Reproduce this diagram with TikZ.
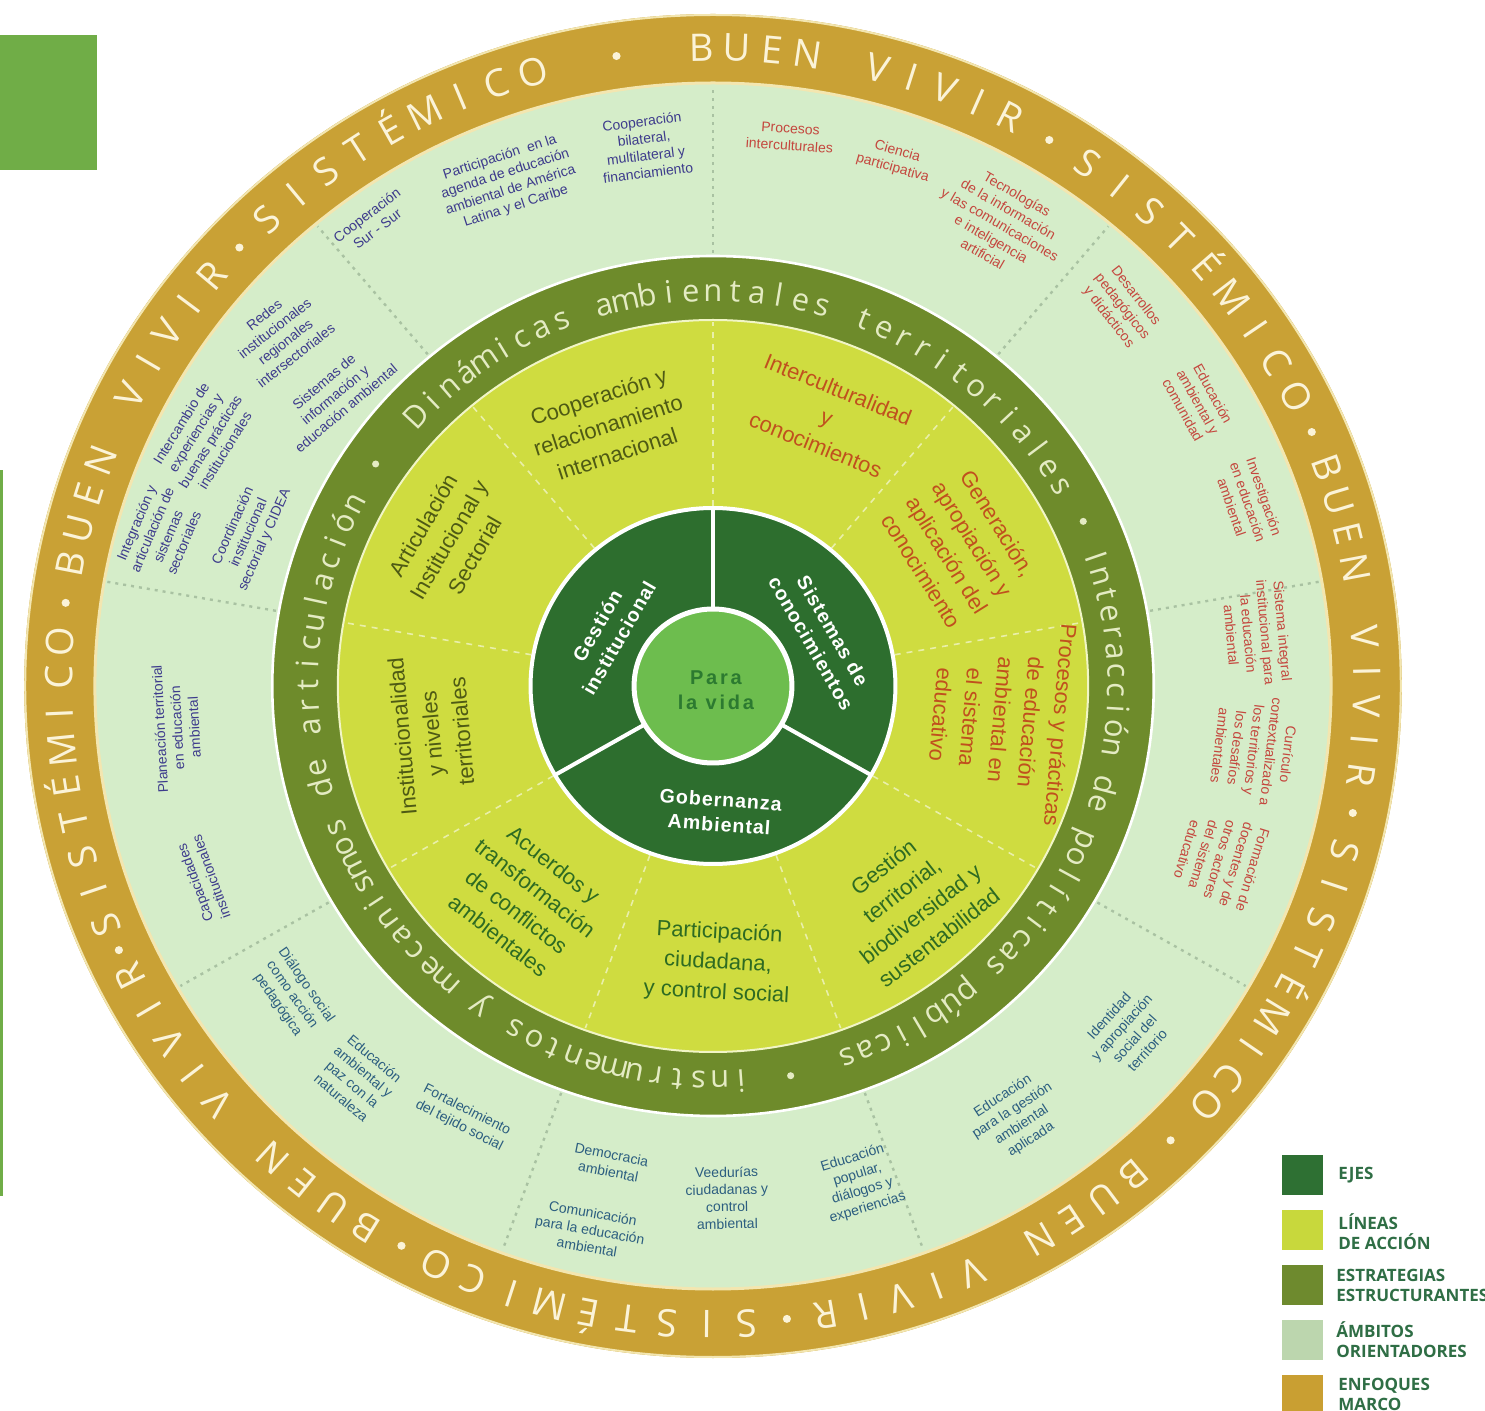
\documentclass[tikz,border=0pt]{standalone}
\usepackage{fontspec}
\setmainfont{Liberation Sans}
\newfontfamily\osans{Open Sans}
\newfontfamily\vidafont[LetterSpace=14]{Liberation Sans}
\newfontfamily\ejfont[LetterSpace=5]{Liberation Sans}

\definecolor{cGold}{HTML}{C9A135}
\definecolor{cGoldEdge}{HTML}{F3E6B0}
\definecolor{cGoldTxt}{HTML}{FBF3D8}
\definecolor{cAmb}{HTML}{D5EDC9}
\definecolor{cOlive}{HTML}{6E8B2B}
\definecolor{cOliveTxt}{HTML}{E4EBC3}
\definecolor{cLineas}{HTML}{CFDC40}
\definecolor{cEjes}{HTML}{2D6E2E}
\definecolor{cVida}{HTML}{6DBD4E}
\definecolor{cVidaTxt}{HTML}{2C7A30}
\definecolor{cDiv}{HTML}{A9C2A2}
\definecolor{cNavy}{HTML}{3D3B8C}
\definecolor{cRed}{HTML}{C4473E}
\definecolor{cTeal}{HTML}{2C5E80}
\definecolor{cOlTxt}{HTML}{4E5A14}
\definecolor{cOrTxt}{HTML}{C0501E}
\definecolor{cGrTxt}{HTML}{2E6B22}
\definecolor{cLeg}{HTML}{2F6E45}
\definecolor{cOffice}{HTML}{70AD47}
\definecolor{cSwEjes}{HTML}{2E7033}
\definecolor{cSwLin}{HTML}{C8D83C}
\definecolor{cSwEst}{HTML}{6E8A2E}
\definecolor{cSwAmb}{HTML}{BCD6AE}
\definecolor{cSwEnf}{HTML}{C99F32}

\makeatletter
\newdimen\AT@tot \newdimen\AT@x \newdimen\AT@w \newdimen\AT@spw
\newcount\AT@n \newcount\AT@id
\def\AT@end{}
\def\AT@endmark{\AT@end}
\def\AT@sp{/}
% #1 baseline radius, #2 start angle, #3 end angle (clockwise), #4 font, #5 text (/ = space)
\newcommand\ArcText[5]{%
  \def\AT@font{#4}%
  \def\AT@r{#1}\def\AT@start{#2}%
  \setbox0\hbox{\AT@font\ }\AT@spw=\wd0\relax
  \AT@tot=0pt\relax \AT@n=0\relax
  \AT@measure#5\AT@end
  \pgfmathsetmacro\AT@track{((#2-(#3))/57.29578*#1*0.5-\the\AT@tot)/(\the\AT@n-1)}%
  \AT@x=0pt\relax
  \AT@place#5\AT@end}
\def\AT@measure#1{%
  \def\AT@tmp{#1}%
  \ifx\AT@tmp\AT@endmark\let\AT@next\relax
  \else\let\AT@next\AT@measurestep\fi
  \AT@next}
\def\AT@measurestep{%
  \ifx\AT@tmp\AT@sp\advance\AT@tot by\AT@spw\relax
  \else\setbox0\hbox{\AT@font\AT@tmp}\advance\AT@tot by\wd0\relax\fi
  \advance\AT@n by 1\relax
  \AT@measure}
\def\AT@place#1{%
  \def\AT@tmp{#1}%
  \ifx\AT@tmp\AT@endmark\let\AT@next\relax
  \else\let\AT@next\AT@placestep\fi
  \AT@next}
\def\AT@placestep{%
  \ifx\AT@tmp\AT@sp\AT@w=\AT@spw\relax\let\AT@draw\relax
  \else\setbox0\hbox{\AT@font\AT@tmp}\AT@w=\wd0\relax\let\AT@draw\AT@drawnode\fi
  \pgfmathsetmacro\AT@ang{\AT@start-(\the\AT@x+0.5*\the\AT@w)/(\AT@r*0.5)*57.29578}%
  \AT@draw
  \advance\AT@x by\AT@w\relax
  \advance\AT@x by\AT@track pt\relax
  \AT@place}
\def\AT@drawnode{\global\advance\AT@id by 1\relax
  \node[inner sep=0pt, anchor=base, rotate=\AT@ang-90] (arcch\the\AT@id) at (\AT@ang:\AT@r) {\AT@font\AT@tmp};}
\makeatother

\newcommand\goldfont{\osans\fontsize{19}{19}\selectfont\color{cGoldTxt}}
\newcommand\olivefont{\osans\fontsize{15.5}{15.5}\selectfont\color{cOliveTxt}}

\tikzset{
  amblab/.style={align=center, inner sep=0pt, font=\fontsize{7}{8.6}\selectfont},
  ylab/.style={align=center, inner sep=0pt, font=\fontsize{11}{15}\selectfont},
  ejlab/.style={align=center, inner sep=0pt, text=white, font=\ejfont\bfseries\fontsize{9.8}{12.5}\selectfont},
  legtx/.style={anchor=west, align=left, inner sep=0pt, text=cLeg, font=\osans\bfseries\fontsize{8.5}{10}\selectfont},
  ydiv/.style={white!55!cLineas, line width=0.8pt, dash pattern=on 3pt off 3pt},
  adiv/.style={cDiv, line width=1.2pt, dash pattern=on 1.5pt off 2.5pt},
}

\begin{document}
\begin{tikzpicture}[x=0.5pt,y=-0.5pt]
\useasboundingbox (0,0) rectangle (1485,1411);
\fill[white] (0,0) rectangle (1485,1411);

% top-left square and left rule
\fill[cOffice] (0,35) rectangle (97,170);
\fill[cOffice] (0,470) rectangle (3,1196);

% ===== rings =====
\begin{scope}[shift={(713,686)}, yscale=-1, xscale=1.025]
  \fill[cGold] (0,0) circle (672);
  \draw[cGoldEdge, line width=1pt] (0,0) circle (671);
  \fill[cAmb] (0,0) circle (603);
  \draw[cGoldEdge, line width=1.5pt] (0,0) circle (603);
  \fill[cOlive] (0,0) circle (430);
  \draw[white, line width=1.3pt] (0,0) circle (430);
  \fill[cLineas] (0,0) circle (366);
  \draw[white!70!cLineas, line width=1pt] (0,0) circle (366);
  \foreach \a in {90,50,10,-30,-70,-110,-150,170,130}{
    \draw[adiv] (\a:433) -- (\a:600);
    \draw[ydiv] (\a:180) -- (\a:364);
  }
  \fill[cEjes] (0,0) circle (178);
  \draw[white, line width=2pt] (0,0) circle (178);
  \foreach \a in {90,210,330}{ \draw[white, line width=2pt] (\a:77) -- (\a:178); }
  \fill[cVida] (0,0) circle (77);
  \draw[white, line width=2.5pt] (0,0) circle (77);

  % gold ring text
  \ArcText{625}{91}{63}{\goldfont}{BUEN/VIVIR}
  \ArcText{625}{55}{27}{\goldfont}{SISTÉMICO}
  \ArcText{625}{20}{-8}{\goldfont}{BUEN/VIVIR}
  \ArcText{625}{-15}{-41}{\goldfont}{SISTÉMICO}
  \ArcText{625}{-50}{-80}{\goldfont}{BUEN/VIVIR}
  \ArcText{625}{-87}{-115}{\goldfont}{SISTÉMICO}
  \ArcText{625}{-122}{-153}{\goldfont}{BUEN/VIVIR}
  \ArcText{625}{-158}{-184}{\goldfont}{SISTÉMICO}
  \ArcText{625}{169}{140}{\goldfont}{BUEN/VIVIR}
  \ArcText{625}{133}{106}{\goldfont}{SISTÉMICO}
  \foreach \a in {98.5,59,23.5,-11.5,-45.5,-83.5,-118.5,-155.5,172.5,136.5}{
    \fill[cGoldTxt] (\a:637) circle (4);
  }
  % olive ring text
  \ArcText{385}{137}{30.5}{\olivefont}{Dinámicas/ambientales/territoriales}
  \ArcText{385}{19}{-70.5}{\olivefont}{Interacción/de/políticas/públicas}
  \ArcText{385}{-86}{-207.5}{\olivefont}{instrumentos/y/mecanismos/de/articulación}
  \foreach \a in {24.5,-79,146}{ \fill[cOliveTxt] (\a:397) circle (3.5); }
\end{scope}

% ===== centre =====
\node[text=cVidaTxt, align=center, inner sep=0pt, font=\vidafont\bfseries\fontsize{10}{12.5}\selectfont] (vida) at (716,690) {Para\\la vida};

% ===== ejes =====
\node[ejlab, rotate=60] (ej1) at (608,632) {Gestión\\institucional};
\node[ejlab, rotate=-60] (ej2) at (822,637) {Sistemas de\\conocimientos};
\node[ejlab, rotate=-4] (ej3) at (720,812) {Gobernanza\\Ambiental};

% ===== lineas de accion =====
\node[ylab, text=cOlTxt, rotate=18] (y1) at (608,425) {Cooperación y\\relacionamiento\\internacional};
\node[ylab, text=cOrTxt, rotate=-22] (y2) at (827,417) {Interculturalidad\\y\\conocimientos};
\node[ylab, text=cOrTxt, rotate=-58] (y3) at (960,547) {Generación,\\apropiación y\\aplicación del\\conocimiento};
\node[ylab, text=cOrTxt, rotate=-95] (y4) at (1001,720) {Procesos y prácticas\\de educación\\ambiental en\\el sistema\\educativo};
\node[ylab, text=cGrTxt, rotate=38] (y5) at (911,902) {Gestión\\territorial,\\biodiversidad y\\sustentabilidad};
\node[ylab, text=cGrTxt, rotate=-3] (y6) at (718,963) {Participación\\ciudadana,\\y control social};
\node[ylab, text=cGrTxt, rotate=-38] (y7) at (526,900) {Acuerdos y\\transformación\\de conflictos\\ambientales};
\node[ylab, text=cOlTxt, rotate=95] (y8) at (432,734) {Institucionalidad\\y niveles\\territoriales};
\node[ylab, text=cOlTxt, rotate=60] (y9) at (449,540) {Articulación\\Institucional y\\Sectorial};

% ===== ambitos =====
\node[amblab, text=cNavy, rotate=37] (a1) at (372,222) {Cooperación\\Sur - Sur};
\node[amblab, text=cNavy, rotate=18] (a2) at (508,182) {Participación\ \ en la\\agenda de educación\\ambiental de América\\Latina y el Caribe};
\node[amblab, text=cNavy, rotate=7] (a3) at (645,147) {Cooperación\\bilateral,\\multilateral y\\financiamiento};
\node[amblab, text=cRed, rotate=-4] (b1) at (790,137) {Procesos\\interculturales};
\node[amblab, text=cRed, rotate=-16] (b2) at (895,160) {Ciencia\\participativa};
\node[amblab, text=cRed, rotate=-30] (b3) at (1000,224) {Tecnologías\\de la información\\y las comunicaciones\\e inteligencia\\artificial};
\node[amblab, text=cRed, rotate=-52] (c1) at (1122,307) {Desarrollos\\pedagógicos\\y didácticos};
\node[amblab, text=cRed, rotate=-61] (c2) at (1198,402) {Educación\\ambiental y\\comunidad};
\node[amblab, text=cRed, rotate=-71] (c3) at (1248,502) {Investigación\\en educación\\ambiental};
\node[amblab, text=cRed, rotate=-85] (d1) at (1257,633) {Sistema integral\\institucional para\\la educación\\ambiental};
\node[amblab, text=cRed, rotate=-97] (d2) at (1254,750) {Currículo\\contextualizado a\\los territorios y\\los desafíos\\ambientales};
\node[amblab, text=cRed, rotate=-107] (d3) at (1220,860) {Formación de\\docentes y de\\otros actores\\del sistema\\educativo};
\node[amblab, text=cTeal, rotate=48] (f1) at (1128,1033) {Identidad\\y apropiación\\social del\\territorio};
\node[amblab, text=cTeal, rotate=33] (f2) at (1017,1118) {Educación\\para la gestión\\ambiental\\aplicada};
\node[amblab, text=cTeal, rotate=-11] (g1) at (610,1163) {Democracia\\ambiental};
\node[amblab, text=cTeal, rotate=-10] (g2) at (590,1230) {Comunicación\\para la educación\\ambiental};
\node[amblab, text=cTeal, rotate=1] (g3) at (727,1198) {Veedurías\\ciudadanas y\\control\\ambiental};
\node[amblab, text=cTeal, rotate=17] (g4) at (860,1183) {Educación\\popular,\\diálogos y\\experiencias};
\node[amblab, text=cTeal, rotate=-55] (h1) at (292,995) {Diálogo social\\como acción\\pedagógica};
\node[amblab, text=cTeal, rotate=-40] (h2) at (358,1078) {Educación\\ambiental y\\paz con la\\naturaleza};
\node[amblab, text=cTeal, rotate=-27] (h3) at (463,1118) {Fortalecimiento\\del tejido social};
\node[amblab, text=cNavy, rotate=93] (i1) at (177,728) {Planeación territorial\\en educación\\ambiental};
\node[amblab, text=cNavy, rotate=110] (i2) at (203,880) {Capacidades\\institucionales};
\node[amblab, text=cNavy, rotate=38] (j1) at (280,335) {Redes\\institucionales\\regionales\\intersectoriales};
\node[amblab, text=cNavy, rotate=40] (j2) at (335,395) {Sistemas de\\información y\\educación ambiental};
\node[amblab, text=cNavy, rotate=58] (j3) at (203,437) {Intercambio de\\experiencias y\\buenas prácticas\\institucionales};
\node[amblab, text=cNavy, rotate=67] (j4) at (160,533) {Integración y\\articulación de\\sistemas\\sectoriales};
\node[amblab, text=cNavy, rotate=66] (j5) at (249,533) {Coordinación\\institucional\\sectorial y CIDEA};

% ===== legend =====
\fill[cSwEjes] (1282,1155) rectangle (1323,1195);
\fill[cSwLin] (1282,1210) rectangle (1323,1250);
\fill[cSwEst] (1282,1265) rectangle (1323,1305);
\fill[cSwAmb] (1282,1320) rectangle (1323,1360);
\fill[cSwEnf] (1282,1375) rectangle (1323,1415);
\node[legtx] (l1) at (1338,1175) {EJES};
\node[legtx] (l2) at (1338,1232) {LÍNEAS\\DE ACCIÓN};
\node[legtx] (l3) at (1336,1285) {ESTRATEGIAS\\ESTRUCTURANTES};
\node[legtx] (l4) at (1336,1340) {ÁMBITOS\\ORIENTADORES};
\node[legtx] (l5) at (1338,1394) {ENFOQUES\\MARCO};
\end{tikzpicture}
\end{document}
